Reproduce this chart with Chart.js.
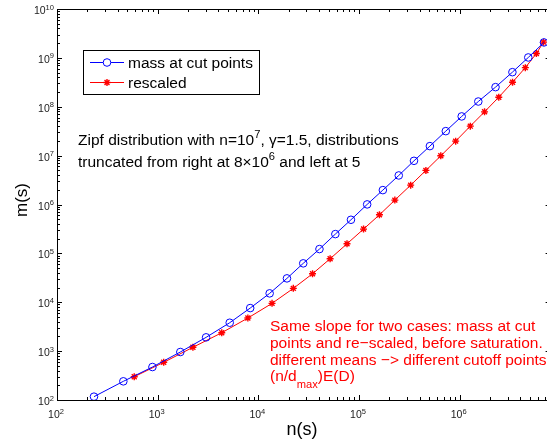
<!DOCTYPE html>
<html>
<head>
<meta charset="utf-8">
<script src="https://cdn.jsdelivr.net/npm/chart.js@4/dist/chart.umd.min.js"></script>
<style>
  html, body { margin: 0; padding: 0; background: #fff; overflow: hidden; }
  canvas { display: block; }
</style>
</head>
<body>
<canvas id="chart" width="556" height="446"></canvas>
<script>
// values (log-log)
const cutX = [233, 456, 887, 1679, 3027, 5196, 8302, 12950, 19240, 27920, 40460, 58210, 83180,
  120500, 172500, 248300, 351600, 505800, 727800, 1047000, 1531000, 2270000, 3340000, 4800000, 6870000];
const cutY = [117, 241, 473, 959, 1914, 3811, 7603, 15200, 30800, 62500, 122500, 248000, 487000,
  1005000, 1970000, 3930000, 7830000, 15650000, 31700000, 63400000, 128000000, 252000000, 510000000, 1020000000, 2070000000];

const rescaledX = [585, 1148, 2239, 4330, 7870, 13680, 22260, 34540, 51640, 76000, 110900, 159600,
  227000, 326000, 461700, 649000, 912000, 1275000, 1766000, 2445000, 3350000, 4490000, 5780000, 6800000];
const rescaledY = [299, 590, 1197, 2377, 4753, 9490, 19230, 38290, 77600, 157000, 314000, 615000,
  1230000, 2490000, 4980000, 9910000, 19800000, 40100000, 78700000, 157000000, 318000000, 631000000, 1230000000, 2100000000];

const xDecades = [2, 3, 4, 5, 6];
const yDecades = [2, 3, 4, 5, 6, 7, 8, 9, 10];
const xMin = 100, xMax = 8e6;
const yMin = 100, yMax = 1e10;

const seriesLabels = ['mass at cut points', 'rescaled'];
const xTitle = 'n(s)';
const yTitle = 'm(s)';

const FONT = 'Arial, "Liberation Sans", Helvetica, sans-serif';
const TXT = 15.5;

function pts(xs, ys) {
  return xs.map((x, i) => ({ x: x, y: ys[i] }));
}

// text with a raised (sup) or lowered (sub) part: parts = [[text, kind], ...]
function drawRich(ctx, parts, x, y, size) {
  let cx = x;
  for (const [t, kind] of parts) {
    const s = kind ? size * 0.72 : size;
    ctx.font = s + 'px ' + FONT;
    const dy = kind === 'sup' ? -size * 0.42 : kind === 'sub' ? size * 0.45 : 0;
    ctx.fillText(t, cx, y + dy);
    cx += ctx.measureText(t).width;
  }
  return cx - x;
}

function richWidth(ctx, parts, size) {
  let w = 0;
  for (const [t, kind] of parts) {
    ctx.font = (kind ? size * 0.72 : size) + 'px ' + FONT;
    w += ctx.measureText(t).width;
  }
  return w;
}

const decor = {
  id: 'decor',
  afterDatasetsDraw(chart) {
    const ctx = chart.ctx;
    const a = chart.chartArea;
    const xs = chart.scales.x, ys = chart.scales.y;
    ctx.save();
    ctx.strokeStyle = '#000';
    ctx.fillStyle = '#000';
    ctx.lineWidth = 1;
    ctx.textAlign = 'left';
    ctx.textBaseline = 'alphabetic';

    // box
    ctx.strokeRect(Math.round(a.left) + 0.5, Math.round(a.top) + 0.5,
      Math.round(a.right - a.left), Math.round(a.bottom - a.top));

    // x ticks (inward, top and bottom)
    ctx.beginPath();
    for (let d = 2; d <= 6; d++) {
      for (let m = 1; m <= 9; m++) {
        const v = m * Math.pow(10, d);
        if (v > xMax) break;
        const px = Math.round(xs.getPixelForValue(v)) + 0.5;
        const len = m === 1 ? 5 : 3;
        ctx.moveTo(px, a.bottom); ctx.lineTo(px, a.bottom - len);
        ctx.moveTo(px, a.top); ctx.lineTo(px, a.top + len);
      }
    }
    // y ticks (inward, left and right)
    for (let d = 2; d <= 10; d++) {
      for (let m = 1; m <= 9; m++) {
        const v = m * Math.pow(10, d);
        if (v > yMax) break;
        const py = Math.round(ys.getPixelForValue(v)) + 0.5;
        const len = m === 1 ? 5 : 3;
        ctx.moveTo(a.left, py); ctx.lineTo(a.left + len, py);
        ctx.moveTo(a.right, py); ctx.lineTo(a.right - len, py);
      }
    }
    ctx.stroke();

    // tick labels
    ctx.fillStyle = '#222';
    const ts = 10.5;
    for (const d of xDecades) {
      const px = xs.getPixelForValue(Math.pow(10, d));
      const parts = [['10', null], [String(d), 'sup']];
      const w = richWidth(ctx, parts, ts);
      drawRich(ctx, parts, px - w / 2 - 1, a.bottom + 18, ts);
    }
    for (const d of yDecades) {
      const py = ys.getPixelForValue(Math.pow(10, d));
      const parts = [['10', null], [String(d), 'sup']];
      const w = richWidth(ctx, parts, ts);
      drawRich(ctx, parts, a.left - 3 - w, py + 5, ts);
    }

    // axis titles
    ctx.fillStyle = '#000';
    ctx.font = '18px ' + FONT;
    ctx.textAlign = 'center';
    ctx.fillText(xTitle, 302, 435);
    ctx.save();
    ctx.translate(27, 200);
    ctx.rotate(-Math.PI / 2);
    ctx.font = '17px ' + FONT;
    ctx.fillText(yTitle, 0, 0);
    ctx.restore();
    ctx.textAlign = 'left';

    // legend
    ctx.fillStyle = '#fff';
    ctx.fillRect(83, 50, 176, 44);
    ctx.strokeStyle = '#000';
    ctx.strokeRect(83.5, 50.5, 176, 44);
    const ds = chart.data.datasets;
    const rows = [62, 82];
    ds.forEach((d, i) => {
      const yy = rows[i] + 0.5;
      ctx.strokeStyle = d.borderColor;
      ctx.lineWidth = 1;
      ctx.beginPath();
      ctx.moveTo(90, yy); ctx.lineTo(124, yy);
      ctx.stroke();
      ctx.lineWidth = d.pointBorderWidth;
      Chart.helpers.drawPoint(ctx, {
        pointStyle: d.pointStyle, radius: d.pointRadius, borderWidth: d.pointBorderWidth, rotation: 0
      }, 107, yy);
      ctx.fillStyle = '#000';
      ctx.font = TXT + 'px ' + FONT;
      ctx.fillText(d.label, 128, rows[i] + 5.5);
    });

    // black note
    ctx.fillStyle = '#000';
    drawRich(ctx, [['Zipf distribution with n=10', null], ['7', 'sup'], [', \u03b3=1.5, distributions', null]], 78, 145, TXT);
    drawRich(ctx, [['truncated from right at 8\u00d710', null], ['6', 'sup'], [' and left at 5', null]], 78, 167, TXT);

    // red note
    ctx.fillStyle = '#ff0000';
    const redLines = [
      'Same slope for two cases: mass at cut',
      'points and re\u2212scaled, before saturation.',
      'different means \u2212> different cutoff points'
    ];
    redLines.forEach((t, i) => drawRich(ctx, [[t, null]], 270, 330.5 + i * 17, TXT));
    drawRich(ctx, [['(n/d', null], ['max', 'sub'], [')E(D)', null]], 270, 381, TXT);

    ctx.restore();
  }
};

new Chart(document.getElementById('chart'), {
  type: 'line',
  data: {
    datasets: [
      {
        label: seriesLabels[0],
        data: pts(cutX, cutY),
        borderColor: '#0000ff',
        backgroundColor: 'rgba(0,0,0,0)',
        borderWidth: 1,
        pointStyle: 'circle',
        pointRadius: 3.8,
        pointBorderWidth: 1,
        pointBorderColor: '#0000ff',
        pointBackgroundColor: 'rgba(0,0,0,0)',
        tension: 0
      },
      {
        label: seriesLabels[1],
        data: pts(rescaledX, rescaledY),
        borderColor: '#ff0000',
        backgroundColor: 'rgba(0,0,0,0)',
        borderWidth: 1,
        pointStyle: 'star',
        pointRadius: 3.5,
        pointBorderWidth: 1.4,
        pointBorderColor: '#ff0000',
        tension: 0
      }
    ]
  },
  options: {
    responsive: false,
    animation: false,
    devicePixelRatio: 1,
    layout: { padding: { left: 57, top: 9, right: 3, bottom: 46 } },
    scales: {
      x: { type: 'logarithmic', min: xMin, max: xMax, display: false },
      y: { type: 'logarithmic', min: yMin, max: yMax, display: false }
    },
    plugins: {
      legend: { display: false },
      tooltip: { enabled: false }
    }
  },
  plugins: [decor]
});
</script>
</body>
</html>
